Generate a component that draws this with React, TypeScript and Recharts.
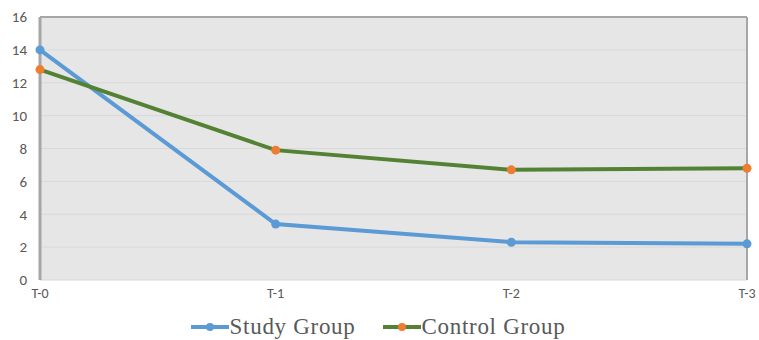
import {
  LineChart,
  Line,
  XAxis,
  YAxis,
  CartesianGrid,
  ReferenceLine,
  Legend,
} from "recharts";

const TIMEPOINTS = ["T-0", "T-1", "T-2", "T-3"];
const STUDY_GROUP = [14, 3.4, 2.3, 2.2];
const CONTROL_GROUP = [12.8, 7.9, 6.7, 6.8];
const Y_TICKS = [0, 2, 4, 6, 8, 10, 12, 14, 16];

const data = TIMEPOINTS.map((t, i) => ({
  t,
  study: STUDY_GROUP[i],
  control: CONTROL_GROUP[i],
}));

const AXIS_FONT = "Carlito, 'Open Sans', 'Liberation Sans', Arial, sans-serif";
const TICK_COLOR = "#595959";
const FRAME = "#a6a6a6";

// legend swatch: short line with a dot in the middle, Excel style
function LegendItems() {
  const items = [
    { label: "Study Group", line: "#5b9bd5", dot: "#5b9bd5" },
    { label: "Control Group", line: "#548235", dot: "#ed7d31" },
  ];
  return (
    <div
      style={{
        display: "flex",
        justifyContent: "center",
        gap: 26,
        fontFamily: "'Liberation Serif', 'Times New Roman', serif",
        fontSize: 23,
        letterSpacing: 0.7,
        lineHeight: "26px",
        color: TICK_COLOR,
        paddingLeft: 8,
      }}
    >
      {items.map((it) => (
        <span key={it.label} style={{ display: "flex", alignItems: "center" }}>
          <svg width={40} height={12}>
            <line x1={1} y1={6} x2={39} y2={6} stroke={it.line} strokeWidth={4} />
            <circle cx={20} cy={6} r={4} fill={it.dot} />
          </svg>
          {it.label}
        </span>
      ))}
    </div>
  );
}

export default function App() {
  return (
    <div style={{ position: "fixed", left: 0, top: 0, width: 759, height: 340, background: "#fff" }}>
      <LineChart
        width={759}
        height={340}
        data={data}
        margin={{ top: 17, right: 12, left: 0, bottom: 0 }}
      >
        <CartesianGrid
          vertical={false}
          stroke="#d9d9d9"
          fill="#e6e6e6"
          fillOpacity={1}
        />
        <XAxis
          dataKey="t"
          axisLine={false}
          tickLine={false}
          tickSize={0}
          tickMargin={8}
          height={34}
          tick={{ fill: TICK_COLOR, fontSize: 14, fontFamily: AXIS_FONT }}
        />
        <YAxis
          domain={[0, 16]}
          ticks={Y_TICKS}
          width={40}
          axisLine={{ stroke: FRAME, strokeWidth: 3 }}
          tickLine={false}
          tickSize={0}
          tickMargin={13}
          tick={{ fill: TICK_COLOR, fontSize: 15, fontFamily: AXIS_FONT }}
        />
        <ReferenceLine y={16} stroke={FRAME} strokeWidth={2} />
        <ReferenceLine x="T-3" stroke={FRAME} strokeWidth={2} />
        <Legend verticalAlign="bottom" content={<LegendItems />} />
        <Line
          dataKey="study"
          stroke="#5b9bd5"
          strokeWidth={4}
          dot={{ r: 4.5, fill: "#5b9bd5", stroke: "none" }}
          isAnimationActive={false}
        />
        <Line
          dataKey="control"
          stroke="#548235"
          strokeWidth={4}
          dot={{ r: 4.5, fill: "#ed7d31", stroke: "none" }}
          isAnimationActive={false}
        />
      </LineChart>
    </div>
  );
}
